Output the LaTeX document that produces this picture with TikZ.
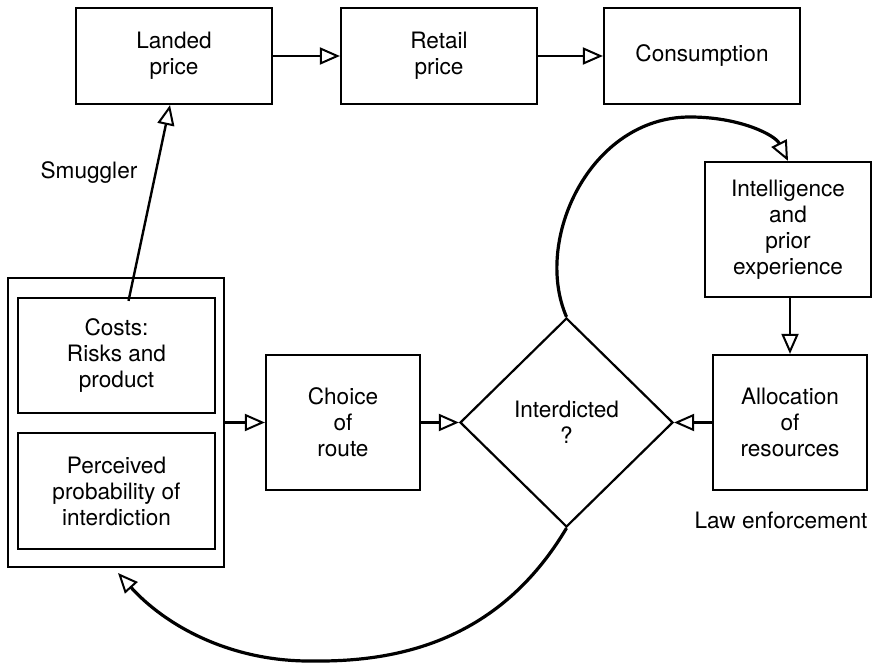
\documentclass[tikz,border=0pt]{standalone}
\usepackage{fontspec}
\setmainfont{TeX Gyre Heros}
\usetikzlibrary{arrows.meta,shapes.geometric}

\begin{document}
\begin{tikzpicture}[x=0.5pt,y=-0.5pt,font=\fontsize{11.3}{13}\selectfont,
  box/.style={draw,line width=1.1pt,align=center,inner sep=2pt},
  flow/.style={line width=1.2pt,-{Triangle[open,length=10pt,width=8.5pt,line width=1pt]}},
  feedback/.style={line width=1.6pt,-{Triangle[open,length=10pt,width=8.5pt,line width=1pt]}}]
\useasboundingbox (0,0) rectangle (878,663);
% price chain
\node[box,minimum width=98pt,minimum height=48pt] (landed) at (174,56) {Landed\\price};
\node[box,minimum width=98pt,minimum height=48pt] (retail) at (439,56) {Retail\\price};
\node[box,minimum width=98pt,minimum height=48pt] (cons) at (702,56) {Consumption};
\draw[flow] (landed.east) -- (retail.west);
\draw[flow] (retail.east) -- (cons.west);
% smuggler side
\node (smug) at (89,173) {Smuggler};
\node[box,minimum width=108pt,minimum height=144.5pt] (outer) at (116,422.5) {};
\node[box,minimum width=98.5pt,minimum height=57.5pt] (costs) at (116.5,355.5) {Costs:\\Risks and\\product};
\node[box,minimum width=98.5pt,minimum height=58pt] (perc) at (116.5,491) {Perceived\\probability of\\interdiction};
\node[box,minimum width=77pt,minimum height=67.5pt] (choice) at (343,422.5) {Choice\\of\\route};
\node[box,shape=diamond,inner sep=0pt,minimum width=106.5pt,minimum height=104.5pt] (inter) at (566.5,422.5) {Interdicted\\?};
\draw[flow] ([xshift=6pt,yshift=-2pt]costs.north) -- ([xshift=-2pt]landed.south);
\draw[flow] (outer.east) -- (choice.west);
\draw[flow] (choice.east) -- (inter.west);
% law enforcement side
\node[box,minimum width=83pt,minimum height=67.5pt] (intel) at (788,229.5) {Intelligence\\and\\prior\\experience};
\node[box,minimum width=77pt,minimum height=67.5pt] (alloc) at (790,422.5) {Allocation\\of\\resources};
\node (law) at (781,520) {Law enforcement};
\draw[flow] (intel.south -| alloc.north) -- (alloc.north);
\draw[flow] (alloc.west) -- (inter.east);
% feedback loops
\coordinate (fbtip) at (118,573);
\draw[feedback] (inter.north) .. controls (533,240) and (590,117) .. (690,117)
  .. controls (740,117) and (775,135) .. (intel.north);
\draw[feedback] (inter.south) .. controls (500,640) and (400,662) .. (313,661)
  .. controls (230,662) and (165,625) .. (fbtip);
\end{tikzpicture}
\end{document}
